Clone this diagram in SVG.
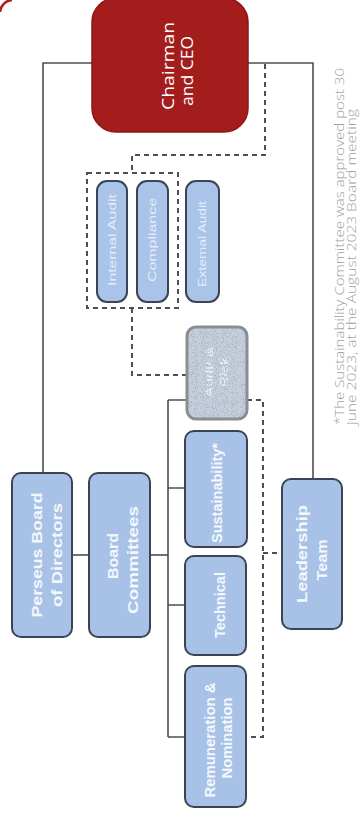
<svg xmlns="http://www.w3.org/2000/svg" width="361" height="819" viewBox="0 0 361 819">
<style>
.box{fill:#a7c2e6;stroke:#3a4452;stroke-width:2}
.small{fill:#a9c4e8;stroke:#3a4452;stroke-width:2}
.lbl{font-family:"Liberation Sans",Arial,sans-serif;font-weight:bold;font-size:14px;fill:#f4f8fd;text-anchor:middle}
.slbl{font-family:"Liberation Sans",Arial,sans-serif;font-size:10px;fill:#e4ecf7;text-anchor:middle}
.ceo{font-family:"Open Sans","DejaVu Sans",sans-serif;font-size:17px;fill:#ffffff;text-anchor:middle}
.note{font-family:"Open Sans","DejaVu Sans",sans-serif;font-weight:300;font-size:12.5px;fill:#a0a0a0}
.solid{fill:none;stroke:#4d4f55;stroke-width:1.6}
.dash{fill:none;stroke:#4d4f55;stroke-width:2;stroke-dasharray:5 4}
</style>
<defs>
<filter id="noiseDark" x="0" y="0" width="100%" height="100%">
<feTurbulence type="fractalNoise" baseFrequency="1.1" numOctaves="1" seed="4" result="t"/>
<feColorMatrix in="t" type="matrix" values="0 0 0 0 0.45 0 0 0 0 0.47 0 0 0 0 0.5 14 0 0 0 -7.6" result="sp"/>
<feComposite in="sp" in2="SourceAlpha" operator="in"/>
</filter>
<filter id="noiseLight" x="0" y="0" width="100%" height="100%">
<feTurbulence type="fractalNoise" baseFrequency="1.0" numOctaves="1" seed="11" result="t"/>
<feColorMatrix in="t" type="matrix" values="0 0 0 0 0.95 0 0 0 0 0.96 0 0 0 0 0.98 14 0 0 0 -7.4" result="sp"/>
<feComposite in="sp" in2="SourceAlpha" operator="in"/>
</filter>
</defs>
<rect width="361" height="819" fill="#ffffff"/>
<path d="M0,12 A13,13 0 0 1 12,0" fill="none" stroke="#b02020" stroke-width="2.5"/>

<g id="connectors">
<path class="solid" d="M93,63 H43 V474"/>
<path class="solid" d="M248,63 H313 V479"/>
<path class="solid" d="M72,555 H89"/>
<path class="solid" d="M150,555 H168"/>
<path class="solid" d="M168,400 V737"/>
<path class="solid" d="M168,400 H187 M168,488 H185 M168,605 H185 M168,737 H185"/>
<path class="dash" d="M265,64 V155 H132 V173"/>
<rect class="dash" x="87" y="173" width="91" height="135"/>
<path class="dash" d="M132,308 V375 H187"/>
<path class="dash" d="M247,400 H263 V737 H247"/>
<path class="dash" d="M263,553 H282"/>
</g>

<g id="chairman">
<rect x="92" y="-2" width="156" height="134" rx="24" fill="#a41d1d" stroke="#8e1616" stroke-width="1.5"/>
<text class="ceo" transform="translate(174,66) rotate(-90)" textLength="88" lengthAdjust="spacingAndGlyphs">Chairman</text>
<text class="ceo" transform="translate(193,71) rotate(-90)" textLength="70" lengthAdjust="spacingAndGlyphs">and CEO</text>
</g>

<g id="internal-audit">
<rect class="small" x="97" y="181" width="30" height="121" rx="10"/>
<text class="slbl" transform="translate(116,240) rotate(-90)" textLength="92" lengthAdjust="spacingAndGlyphs">Internal Audit</text>
</g>
<g id="compliance">
<rect class="small" x="137" y="181" width="31" height="121" rx="10"/>
<text class="slbl" transform="translate(156,240) rotate(-90)" textLength="84" lengthAdjust="spacingAndGlyphs">Compliance</text>
</g>
<g id="external-audit">
<rect class="small" x="186" y="181" width="33" height="121" rx="10"/>
<text class="slbl" transform="translate(206,244) rotate(-90)" textLength="86" lengthAdjust="spacingAndGlyphs">External Audit</text>
</g>

<g id="audit-risk">
<rect x="187" y="327" width="60" height="92" rx="9" fill="#c3cfde"/>
<rect x="187" y="327" width="60" height="92" rx="9" fill="#000" filter="url(#noiseLight)"/>
<text class="lbl" transform="translate(213,372) rotate(-90)" style="font-size:11px;fill:#eef2f8;opacity:0.8" textLength="50" lengthAdjust="spacingAndGlyphs">Audit &amp;</text>
<text class="lbl" transform="translate(228,372) rotate(-90)" style="font-size:11px;fill:#eef2f8;opacity:0.8" textLength="30" lengthAdjust="spacingAndGlyphs">Risk</text>
<rect x="187" y="327" width="60" height="92" rx="9" fill="#000" filter="url(#noiseDark)"/>
<rect x="187" y="327" width="60" height="92" rx="9" fill="none" stroke="#8a8d92" stroke-width="3"/>
</g>

<g id="perseus-board">
<rect class="box" x="12" y="473" width="60" height="164" rx="9"/>
<text class="lbl" transform="translate(42,555) rotate(-90)" textLength="125" lengthAdjust="spacingAndGlyphs">Perseus Board</text>
<text class="lbl" transform="translate(62,555) rotate(-90)" textLength="104" lengthAdjust="spacingAndGlyphs">of Directors</text>
</g>

<g id="board-committees">
<rect class="box" x="89" y="473" width="61" height="164" rx="9"/>
<text class="lbl" transform="translate(118,556) rotate(-90)" textLength="46" lengthAdjust="spacingAndGlyphs">Board</text>
<text class="lbl" transform="translate(138,560) rotate(-90)" textLength="108" lengthAdjust="spacingAndGlyphs">Committees</text>
</g>

<g id="sustainability">
<rect class="box" x="185" y="431" width="62" height="116" rx="9"/>
<text class="lbl" transform="translate(222,493) rotate(-90)" textLength="100" lengthAdjust="spacingAndGlyphs">Sustainability*</text>
</g>

<g id="technical">
<rect class="box" x="185" y="556" width="61" height="99" rx="9"/>
<text class="lbl" transform="translate(225,605) rotate(-90)" textLength="66" lengthAdjust="spacingAndGlyphs">Technical</text>
</g>

<g id="remuneration">
<rect class="box" x="185" y="666" width="61" height="141" rx="9"/>
<text class="lbl" transform="translate(215,740) rotate(-90)" textLength="115" lengthAdjust="spacingAndGlyphs">Remuneration &amp;</text>
<text class="lbl" transform="translate(232,738) rotate(-90)" textLength="81" lengthAdjust="spacingAndGlyphs">Nomination</text>
</g>

<g id="leadership">
<rect class="box" x="282" y="479" width="60" height="150" rx="9"/>
<text class="lbl" transform="translate(307,554) rotate(-90)" textLength="98" lengthAdjust="spacingAndGlyphs">Leadership</text>
<text class="lbl" transform="translate(327,560) rotate(-90)" textLength="41" lengthAdjust="spacingAndGlyphs">Team</text>
</g>

<g id="footnote">
<text class="note" transform="translate(344,425) rotate(-90)" textLength="357" lengthAdjust="spacingAndGlyphs">*The Sustainability Committee was approved post 30</text>
<text class="note" transform="translate(356,425) rotate(-90)" textLength="316" lengthAdjust="spacingAndGlyphs">June 2023, at the August 2023 Board meeting</text>
</g>
</svg>
